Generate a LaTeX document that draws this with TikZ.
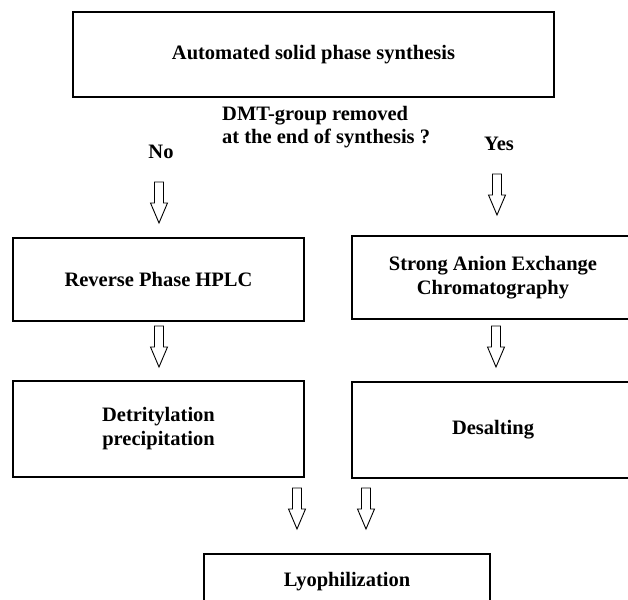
\documentclass[tikz,border=0pt]{standalone}
\usepackage{fontspec}
\setmainfont{Liberation Serif}

\begin{document}
\begin{tikzpicture}[x=1pt, y=1pt,
  stage/.style={draw, line width=1.2pt, inner sep=0pt, align=center, font=\bfseries\fontsize{20.5}{24}\selectfont},
  txt/.style={inner sep=0pt, font=\bfseries\fontsize{20.5}{23.5}\selectfont},
  blockdown/.pic={\draw[line width=0.9pt] (-4.5,0) -- (-4.5,-21) -- (-8.5,-21) -- (0,-41) -- (8.5,-21) -- (4.5,-21) -- (4.5,0) -- cycle;}]
  \useasboundingbox (0,0) rectangle (628,599);
  % Synthesis
  \node[stage, minimum width=481pt, minimum height=85pt] (synth) at (313.5,544.5) {Automated solid phase synthesis};
  % Question and branches
  \node[txt, anchor=north west, align=left] (quest) at (222,493) {DMT-group removed\\at the end of synthesis ?};
  \node[txt, anchor=base] (no) at (161,440.5) {No};
  \node[txt, anchor=base] (yes) at (499,448) {Yes};
  \pic at (159,417) {blockdown};
  \pic at (497,425) {blockdown};
  % Purification
  \node[stage, minimum width=291pt, minimum height=83pt] (rphplc) at (158.5,319.5) {Reverse Phase HPLC};
  \node[stage, minimum width=282pt, minimum height=83pt] (saxc) at (493,321.5) {Strong Anion Exchange\\Chromatography};
  \pic at (159,273) {blockdown};
  \pic at (496,273) {blockdown};
  \node[stage, minimum width=291pt, minimum height=96pt] (detrit) at (158.5,170) {Detritylation\\precipitation};
  \node[stage, minimum width=282pt, minimum height=96pt] (desalt) at (493,169) {Desalting};
  \pic at (297,111) {blockdown};
  \pic at (366,111) {blockdown};
  % Final step
  \node[stage, minimum width=286pt, minimum height=56pt] (lyo) at (347,17) {Lyophilization};
\end{tikzpicture}
\end{document}
